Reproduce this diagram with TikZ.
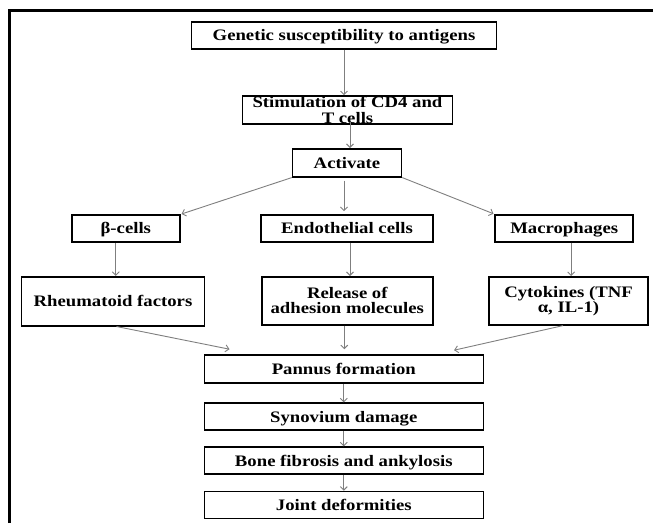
\documentclass[tikz,border=0pt]{standalone}
\usepackage{fontspec}
\setmainfont{Liberation Serif}[FakeStretch=1.17]
\usetikzlibrary{arrows.meta}
\definecolor{linkgray}{HTML}{7F7F7F}
\begin{document}
\begin{tikzpicture}[x=1pt,y=-1pt,
        box/.style={draw,line width=1.6pt,inner sep=2pt,align=center,
            font=\bfseries\fontsize{16}{15.3}\selectfont},
        oneline/.style={box,text height=10.6pt,text depth=0pt},
        flow/.style={draw=linkgray,line width=0.9pt,
            -{Straight Barb[length=3.5pt,width=7pt]}}]
    \useasboundingbox (0,0) rectangle (653,523);
    \draw[line width=3pt] (9,523) -- (9,10) -- (655,10);
    % top chain
    \node[oneline,minimum width=305pt,minimum height=27pt] (gen) at (344,35.3)
        {Genetic susceptibility to antigens};
    \node[box,minimum width=210pt,minimum height=28pt,inner ysep=-1pt] (stim) at (347.5,110)
        {Stimulation of CD4 and\\T cells};
    \node[oneline,minimum width=109pt,minimum height=28pt] (act) at (347,162.8) {Activate};
    % three branches
    \node[oneline,minimum width=108pt,minimum height=27pt] (beta) at (125.8,228.6) {β-cells};
    \node[oneline,minimum width=172pt,minimum height=27pt] (endo) at (347,228.4) {Endothelial cells};
    \node[oneline,minimum width=138pt,minimum height=27pt] (macro) at (564.2,228.4) {Macrophages};
    \node[oneline,minimum width=183pt,minimum height=49pt] (rheum) at (113,301.2) {Rheumatoid factors};
    \node[box,minimum width=171pt,minimum height=48pt] (rel) at (347.3,300.8)
        {Release of\\adhesion molecules};
    \node[box,minimum width=159pt,minimum height=48pt] (cyto) at (568.5,300.8)
        {Cytokines (TNF\\α, IL-1)};
    % bottom chain
    \node[oneline,minimum width=279pt,minimum height=28pt] (pan) at (343.8,369) {Pannus formation};
    \node[oneline,minimum width=279pt,minimum height=27pt] (syn) at (343.8,416.7) {Synovium damage};
    \node[oneline,minimum width=279pt,minimum height=27pt] (bone) at (343.8,460.7)
        {Bone fibrosis and ankylosis};
    \node[oneline,minimum width=279pt,minimum height=27pt] (joint) at (343.8,505) {Joint deformities};
    % connectors
    \draw[flow] (gen.south) -- (gen.south |- stim.north);
    \draw[flow] ([xshift=2.5pt,yshift=3pt]stim.south) -- ([xshift=2.5pt]stim.south |- act.north);
    \draw[flow,shorten >=1pt] (act.south west) -- (beta.north east);
    \draw[flow,shorten >=3pt] ([xshift=-3pt,yshift=-3pt]act.south) -- ([xshift=-3pt]act.south |- endo.north);
    \draw[flow,shorten >=1pt] (act.south east) -- (macro.north west);
    \draw[flow] ([xshift=-10pt]beta.south) -- ([xshift=-10pt]beta.south |- rheum.north);
    \draw[flow] ([xshift=3pt]endo.south) -- ([xshift=3pt]endo.south |- rel.north);
    \draw[flow] ([xshift=7pt]macro.south) -- ([xshift=7pt]macro.south |- cyto.north);
    \draw[flow] ([xshift=3.5pt]rheum.south) -- ([xshift=26pt,yshift=5pt]pan.north west);
    \draw[flow,shorten >=5pt] ([xshift=-3pt]rel.south) -- ([xshift=-3pt]rel.south |- pan.north);
    \draw[flow] ([xshift=-5.5pt]cyto.south) -- ([xshift=-30pt,yshift=4pt]pan.north east);
    \draw[flow] (pan.south) -- (syn.north);
    \draw[flow] (syn.south) -- (bone.north);
    \draw[flow] (bone.south) -- (joint.north);
\end{tikzpicture}
\end{document}
